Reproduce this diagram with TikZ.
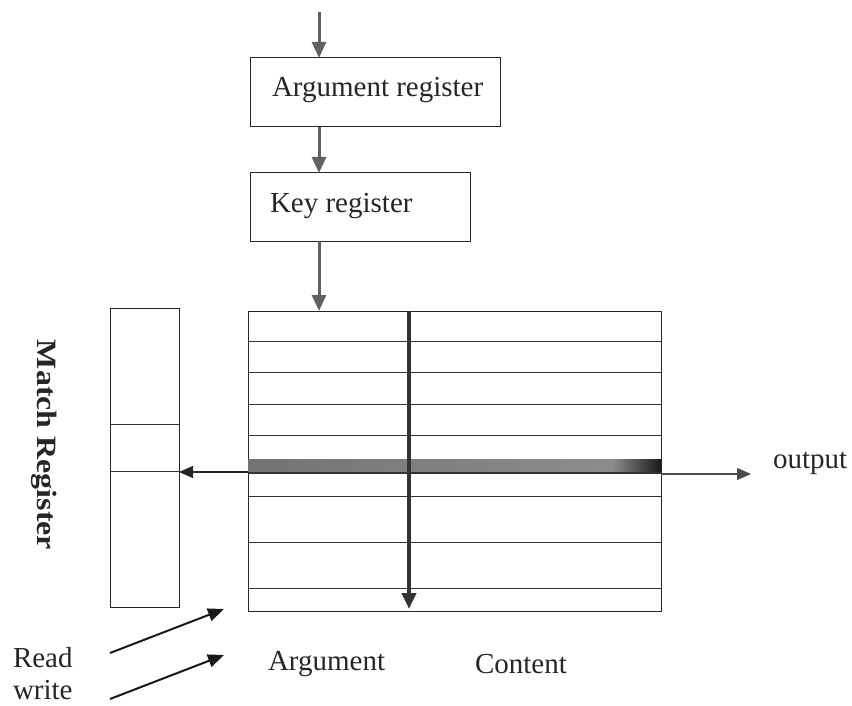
\documentclass[tikz,border=0pt]{standalone}
\usepackage{fontspec}
\setmainfont{Liberation Serif}
\usetikzlibrary{arrows.meta}

\begin{document}
\begin{tikzpicture}[x=1pt,y=-1pt,
  every node/.style={inner sep=0pt, outer sep=0pt},
  regbox/.style={draw=black!85, line width=1pt, anchor=north west},
  cell/.style={draw=black!80, line width=1pt},
  lbl/.style={font=\fontsize{29}{34}\selectfont, text=black!85, anchor=base west},
  feed/.style={draw=black!62, line width=3pt, -{Triangle[length=16pt,width=14pt]}},
  scan/.style={draw=black!80, line width=4pt, -{Triangle[length=16pt,width=14pt]}},
  thinarrow/.style={draw=black!85, line width=1.2pt, -{Triangle[length=14pt,width=12pt]}},
  rwarrow/.style={draw=black!90, line width=2pt, -{Triangle[length=16pt,width=13pt]}}
]
\useasboundingbox (0,0) rectangle (852,706);

% registers
\node[regbox, minimum width=250pt, minimum height=69pt] (arg) at (250,58) {};
\node[lbl] (argtxt) at (272,97) {Argument register};
\node[regbox, minimum width=220pt, minimum height=68pt] (key) at (250,173) {};
\node[lbl] (keytxt) at (270,212) {Key register};

% memory array
\node[regbox, minimum width=413pt, minimum height=300pt] (mem) at (248,311) {};
% highlighted word
\shade[left color=black!55, right color=black!45] (248,459) rectangle (612,473);
\shade[left color=black!45, right color=black!90] (612,459) rectangle (661,473);
\draw[black!80, line width=1.4pt] (248,473) -- (661,473);
\foreach \yy in {341,372,404,435,496,542,588}
  \draw[cell] (248,\yy) -- (661,\yy);
\coordinate (scantop) at (409,311);
\coordinate (scanend) at (409,609);
\draw[scan] (scantop) -- (scanend);

% match register
\node[regbox, minimum width=69pt, minimum height=299pt] (match) at (110,308) {};
\draw[cell] (110,424) -- (179,424);
\draw[cell] (110,471) -- (179,471);
\node[rotate=-90, anchor=base, font=\fontsize{28}{34}\selectfont\bfseries, text=black!85]
  (matchtxt) at (37,445) {\scalebox{1.14}[1]{Match Register}};

% data flow
\coordinate (in) at (319,12);
\draw[feed] (in) -- (in |- arg.north);
\draw[feed] (arg.south -| in) -- (key.north -| in);
\draw[feed] (key.south -| in) -- (mem.north -| in);

\coordinate (hitL) at (248,472);
\coordinate (hitR) at (661,474);
\draw[thinarrow] (hitL) -- (match.east |- hitL);
\coordinate (outend) at (751,474);
\draw[thinarrow, draw=black!70] (hitR) -- (outend);
\node[lbl] (outtxt) at (773,468) {output};

% read / write strobes
\node[lbl] (readtxt) at (13,667) {Read};
\node[lbl] (writetxt) at (13,699) {write};
\coordinate (r0) at (110,653);
\coordinate (r1) at (224,609);
\coordinate (w0) at (110,699);
\coordinate (w1) at (224,655);
\draw[rwarrow] (r0) -- (r1);
\draw[rwarrow] (w0) -- (w1);

% column labels
\node[lbl] (argcol) at (268,670) {Argument};
\node[lbl] (contcol) at (475,673) {Content};
\end{tikzpicture}
\end{document}
